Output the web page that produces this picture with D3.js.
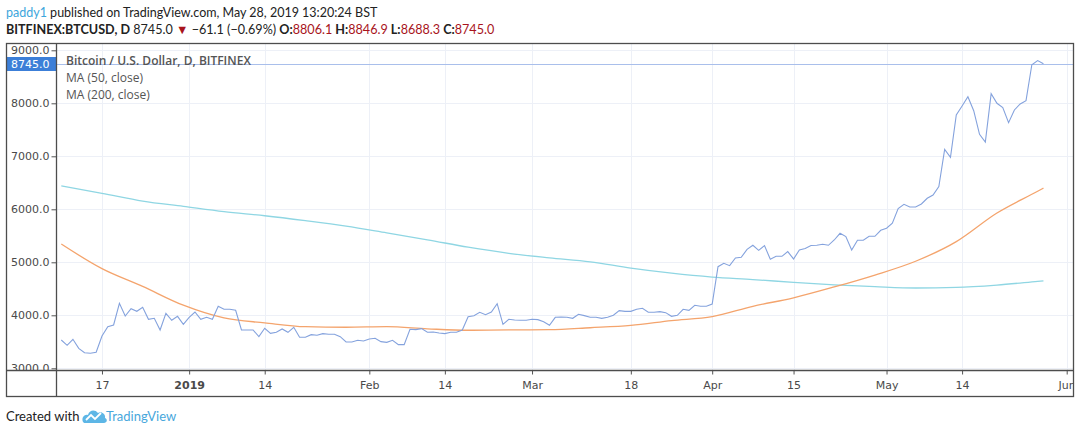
<!DOCTYPE html>
<html>
<head>
<meta charset="utf-8">
<script src="https://cdn.jsdelivr.net/npm/d3@7"></script>
<style>
  body { margin: 0; background: #fff; }
  svg { display: block; }
</style>
</head>
<body>
<div id="my_dataviz"></div>
<script>
// daily closes, first one is 2018-12-10 (BITFINEX:BTCUSD, D)
var firstDay = "2018-12-10";
var closes = [
  3534, 3434, 3547, 3377, 3294, 3283, 3302, 3609, 3785, 3817, 4226, 3987, 4125, 4075, 4151, 3925, 3943, 3723, 4038, 3906, 3981, 3830,
  3962, 4062, 3925, 3962, 3925, 4170, 4113, 4113, 4094, 3723, 3723, 3723, 3597, 3755, 3660, 3679, 3742, 3679, 3774, 3585, 3585, 3635, 3623, 3654, 3642, 3642, 3597, 3496, 3496, 3528, 3516,
  3553, 3566, 3503, 3490, 3528, 3446, 3446, 3736, 3730, 3748, 3679, 3685, 3666, 3654, 3679, 3679, 3723, 3974, 3993, 4056, 4012, 4062, 4219, 3830, 3925, 3911, 3906, 3906,
  3925, 3918, 3880, 3811, 3962, 3968, 3962, 3943, 4019, 3994, 3962, 3962, 3943, 3962, 4000, 4087, 4075, 4075, 4113, 4132, 4057, 4057, 4069, 4050, 3981, 4000, 4113, 4094, 4189, 4170, 4170,
  4213, 4917, 4981, 4937, 5081, 5094, 5245, 5321, 5226, 5314, 5057, 5113, 5113, 5201, 5063, 5232, 5262, 5318, 5321, 5340, 5321, 5421, 5547, 5484, 5232, 5415, 5415, 5491, 5491, 5604,
  5642, 5736, 6013, 6094, 6043, 6043, 6100, 6208, 6270, 6428, 7132, 6981, 7779, 7949, 8125, 7861, 7415, 7270, 8181, 8000, 7918, 7634, 7874, 7987, 8049, 8728, 8805, 8745
];

// moving averages, one value per week (day offset from firstDay)
var maDays = [0, 7, 14, 21, 28, 35, 42, 49, 56, 63, 70, 77, 84, 91, 98, 105, 112, 119, 126, 133, 140, 147, 154, 161, 168, 169];
var ma50 = [5345, 4880, 4545, 4190, 3950, 3858, 3785, 3775, 3785, 3745, 3718, 3725, 3728, 3765, 3810, 3900, 3975, 4170, 4330, 4535, 4760, 5020, 5390, 5930, 6340, 6400];
var ma200 = [6440, 6302, 6155, 6055, 5955, 5878, 5785, 5682, 5555, 5425, 5285, 5170, 5085, 5010, 4890, 4795, 4722, 4675, 4622, 4575, 4540, 4515, 4525, 4570, 4640, 4650];

var lastClose = 8745.0;

// tick labels
var yTicks = [3000, 4000, 5000, 6000, 7000, 8000, 9000];
var xTickDates = ["2018-12-17", "2019-01-01", "2019-01-14", "2019-02-01", "2019-02-14", "2019-03-01", "2019-03-18", "2019-04-01", "2019-04-15", "2019-05-01", "2019-05-14", "2019-06-01"];
var xTickLabels = ["17", "2019", "14", "Feb", "14", "Mar", "18", "Apr", "15", "May", "14", "Jun"];

var width = 1080, height = 434;
var frame = {left: 6.5, right: 1073.5, top: 43.5, bottom: 396.5};
var plot = {left: 56.5, right: 1073.5, top: 43.5, bottom: 370.5};

var parse = d3.utcParse("%Y-%m-%d");
var day0 = parse(firstDay);
var priceData = closes.map(function(c, i) { return {date: d3.utcDay.offset(day0, i), value: c}; });
var ma50Data = maDays.map(function(d, i) { return {date: d3.utcDay.offset(day0, d), value: ma50[i]}; });
var ma200Data = maDays.map(function(d, i) { return {date: d3.utcDay.offset(day0, d), value: ma200[i]}; });

var svg = d3.select("#my_dataviz")
  .append("svg")
  .attr("width", width)
  .attr("height", height);

var hdrFont = "Lato, 'Open Sans', sans-serif";
var axFont = "'DejaVu Sans', Verdana, sans-serif";

// header, line 1
var h1 = svg.append("text")
  .attr("x", 6).attr("y", 17)
  .style("font-family", hdrFont).style("font-size", "12.5px").attr("fill", "#222");
h1.append("tspan").attr("fill", "#3ca6dc").text("paddy1");
h1.append("tspan").text(" published on TradingView.com, May 28, 2019 13:20:24 BST");

// header, line 2
var h2 = svg.append("text")
  .attr("x", 6).attr("y", 34)
  .style("font-family", hdrFont).style("font-size", "12.6px").attr("fill", "#222");
h2.append("tspan").attr("font-weight", "bold").text("BITFINEX:BTCUSD, D");
h2.append("tspan").text(" 8745.0 ");
h2.append("tspan").attr("fill", "#a8141c").text("\u25BC");
h2.append("tspan").text(" \u221261.1 (\u22120.69%) ");
[["O:", "8806.1"], ["H:", "8846.9"], ["L:", "8688.3"], ["C:", "8745.0"]].forEach(function(p, i) {
  h2.append("tspan").attr("font-weight", "bold").text((i ? " " : "") + p[0]);
  h2.append("tspan").attr("fill", "#a8141c").text(p[1]);
});

// scales
var x = d3.scaleUtc()
  .domain([day0, parse("2019-06-01")])
  .range([61.3, 1066.7]);
var y = d3.scaleLinear()
  .domain([3000, 9000])
  .range([368.3, 50.3]);

svg.append("clipPath").attr("id", "plotclip")
  .append("rect")
  .attr("x", plot.left).attr("y", plot.top)
  .attr("width", plot.right - plot.left).attr("height", plot.bottom - plot.top);
svg.append("clipPath").attr("id", "yclip")
  .append("rect")
  .attr("x", frame.left).attr("y", frame.top)
  .attr("width", plot.left - frame.left).attr("height", plot.bottom - frame.top);
svg.append("clipPath").attr("id", "xclip")
  .append("rect")
  .attr("x", frame.left).attr("y", plot.bottom)
  .attr("width", frame.right - frame.left).attr("height", frame.bottom - plot.bottom);

var xTicks = xTickDates.map(parse);

// grid
var grid = svg.append("g").attr("clip-path", "url(#plotclip)");
grid.selectAll(".vg").data(xTicks).enter().append("line")
  .attr("x1", function(d) { return Math.round(x(d)) + 0.5; })
  .attr("x2", function(d) { return Math.round(x(d)) + 0.5; })
  .attr("y1", plot.top).attr("y2", plot.bottom)
  .attr("stroke", "#edf0f7").attr("stroke-width", 1);
grid.selectAll(".hg").data(yTicks).enter().append("line")
  .attr("x1", plot.left).attr("x2", plot.right)
  .attr("y1", function(d) { return Math.round(y(d)) + 0.5; })
  .attr("y2", function(d) { return Math.round(y(d)) + 0.5; })
  .attr("stroke", "#edf0f7").attr("stroke-width", 1);

// lines
var line = d3.line()
  .x(function(d) { return x(d.date); })
  .y(function(d) { return y(d.value); });
var maLine = d3.line()
  .curve(d3.curveMonotoneX)
  .x(function(d) { return x(d.date); })
  .y(function(d) { return y(d.value); });
var marks = svg.append("g").attr("clip-path", "url(#plotclip)");

// current price line
marks.append("line")
  .attr("x1", plot.left).attr("x2", plot.right)
  .attr("y1", Math.round(y(lastClose)) + 0.5).attr("y2", Math.round(y(lastClose)) + 0.5)
  .attr("stroke", "#a9bfeb").attr("stroke-width", 1);

marks.append("path").datum(ma200Data)
  .attr("fill", "none").attr("stroke", "#8fd6e3").attr("stroke-width", 1.3)
  .attr("d", maLine);
marks.append("path").datum(ma50Data)
  .attr("fill", "none").attr("stroke", "#f4a46d").attr("stroke-width", 1.3)
  .attr("d", maLine);
marks.append("path").datum(priceData)
  .attr("fill", "none").attr("stroke", "#84a2dd").attr("stroke-width", 1.1)
  .attr("d", line);

// Add Y axis (clip wrapper has no transform so the clip rect stays in page coords)
var yAxis = svg.append("g")
  .attr("clip-path", "url(#yclip)")
  .append("g")
  .attr("transform", "translate(" + plot.left + ",0)")
  .call(d3.axisLeft(y).tickValues(yTicks).tickSize(5).tickPadding(2).tickFormat(d3.format(".1f")));
yAxis.select(".domain").remove();
yAxis.selectAll("line").attr("stroke", "#555");
yAxis.selectAll("text")
  .style("font-family", axFont).style("font-size", "11px").attr("fill", "#4a4a4a");

// last price tag
var tagY = Math.round(y(lastClose));
svg.append("rect")
  .attr("x", frame.left + 0.5).attr("y", tagY - 7)
  .attr("width", plot.left - frame.left - 1).attr("height", 14)
  .attr("fill", "#3c7fd8");
svg.append("text")
  .attr("x", 49.5).attr("y", tagY)
  .attr("dy", "0.35em").attr("text-anchor", "end")
  .style("font-family", axFont).style("font-size", "11px").attr("fill", "#fff")
  .text(d3.format(".1f")(lastClose));

// Add X axis
var xAxis = svg.append("g")
  .attr("clip-path", "url(#xclip)")
  .append("g")
  .attr("transform", "translate(0," + plot.bottom + ")")
  .call(d3.axisBottom(x).tickValues(xTicks).tickSize(4).tickPadding(7)
    .tickFormat(function(d, i) { return xTickLabels[i]; }));
xAxis.select(".domain").remove();
xAxis.selectAll("line").attr("stroke", "#555");
xAxis.selectAll("text")
  .style("font-family", axFont).style("font-size", "11px").attr("fill", "#4a4a4a")
  .attr("font-weight", function(d, i) { return xTickLabels[i] === "2019" ? "bold" : "normal"; });

// frame
svg.append("rect")
  .attr("x", frame.left).attr("y", frame.top)
  .attr("width", frame.right - frame.left).attr("height", frame.bottom - frame.top)
  .attr("fill", "none").attr("stroke", "#4d4d4d").attr("stroke-width", 1.3);
svg.append("line")
  .attr("x1", frame.left).attr("x2", frame.right)
  .attr("y1", plot.bottom).attr("y2", plot.bottom)
  .attr("stroke", "#4d4d4d").attr("stroke-width", 1.3);
svg.append("line")
  .attr("x1", plot.left).attr("x2", plot.left)
  .attr("y1", frame.top).attr("y2", frame.bottom)
  .attr("stroke", "#4d4d4d").attr("stroke-width", 1.3);

// legend
var legend = [
  {t: "Bitcoin / U.S. Dollar, D, BITFINEX", w: "600"},
  {t: "MA (50, close)", w: "normal"},
  {t: "MA (200, close)", w: "normal"}
];
svg.selectAll(".leg").data(legend).enter().append("text")
  .attr("x", 66).attr("y", function(d, i) { return 61 + i * 17; })
  .attr("dy", "0.35em")
  .style("font-family", "'Open Sans', sans-serif").style("font-size", "12px")
  .attr("font-weight", function(d) { return d.w; })
  .attr("fill", "#555")
  .text(function(d) { return d.t; });

// footer
svg.append("text")
  .attr("x", 6).attr("y", 421)
  .style("font-family", hdrFont).style("font-size", "13px").attr("fill", "#222")
  .text("Created with");
var logo = svg.append("g").attr("transform", "translate(82,408)");
logo.append("path")
  .attr("d", "M1,14 C-1,9 3,6 6,7 C7,2 13,1 16,5 C19,3 24,6 23,10 C26,11 25,15 22,15 L3,15 C2,15 1.5,14.5 1,14 Z")
  .attr("fill", "#5db6e6");
logo.append("path")
  .attr("d", "M4,12 L9,7 L13,11 L19,5")
  .attr("fill", "none").attr("stroke", "#fff").attr("stroke-width", 1.8);
svg.append("text")
  .attr("x", 106).attr("y", 421)
  .style("font-family", hdrFont).style("font-size", "13px").attr("fill", "#48a7dc")
  .text("TradingView");
</script>
</body>
</html>
